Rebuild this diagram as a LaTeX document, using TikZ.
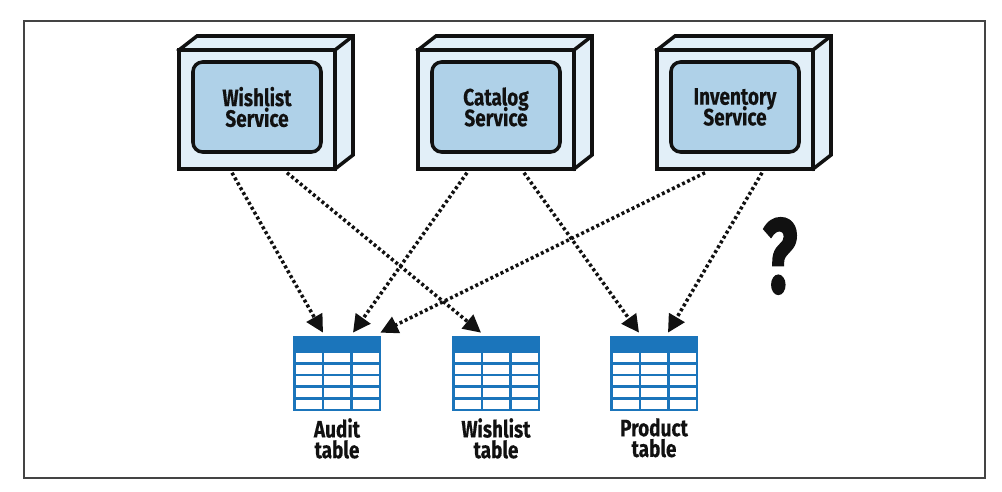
\documentclass[tikz,border=0pt]{standalone}
\usepackage{fontspec}
\setmainfont{Fira Sans}
\newfontfamily\narrowfont[FakeStretch=0.8,FakeBold=0.3]{Fira Sans}
\newfontfamily\queryfont[FakeStretch=0.68,FakeBold=1.5]{Fira Sans}
\usetikzlibrary{arrows.meta,calc}
\definecolor{ink}{HTML}{111111}
\definecolor{framegray}{HTML}{444444}
\definecolor{pale}{HTML}{E2EFF8}
\definecolor{panel}{HTML}{AFD1E8}
\definecolor{tableblue}{HTML}{1B75BB}
\lineskiplimit=-10pt
\normallineskiplimit=-10pt
\tikzset{
  frontface/.style={draw=ink,fill=pale,line width=2pt,line join=miter,minimum width=156*0.02cm,minimum height=119*0.02cm,inner sep=0pt},
  sideface/.style={draw=ink,fill=pale,line width=2pt,line join=miter},
  panelbox/.style={draw=ink,fill=panel,line width=2pt,rounded corners=5.5pt,minimum width=128*0.02cm,minimum height=90*0.02cm,inner sep=0pt,align=center,text=ink,font=\narrowfont\bfseries\fontsize{13.5}{11.8}\selectfont},
  tablebox/.style={draw=none,fill=tableblue,minimum width=88*0.02cm,minimum height=75*0.02cm,inner sep=0pt},
  tablelabel/.style={align=center,text=ink,font=\narrowfont\bfseries\fontsize{13.5}{11.8}\selectfont},
  dotarrow/.style={ink,line width=2pt,dash pattern=on 1.7pt off 1.5pt,-{Triangle[length=10pt,width=10pt]}}
}
\begin{document}
\begin{tikzpicture}[x=0.02cm,y=-0.02cm]
  \useasboundingbox (0,0) rectangle (1002,491);
  \draw[framegray,line width=.8pt] (24,21) rectangle (985,478);

  % service boxes
  \foreach \xx/\nm/\txt in {257/wishlist/{Wishlist\\Service},496/catalog/{Catalog\\Service},735/inventory/{Inventory\\Service}}{
    \draw[sideface] (\xx-78,50)--(\xx-60,36)--(\xx+96,36)--(\xx+96,155)--(\xx+78,169)--cycle;
    \draw[sideface] (\xx+78,50)--(\xx+96,36);
    \node[frontface] (\nm) at (\xx,109.5) {};
    \node[panelbox] (\nm panel) at (\xx,107) {\txt};
  }

  % tables
  \foreach \xx/\nm/\txt in {337/audit/{Audit\\table},496/wish/{Wishlist\\table},654/product/{Product\\table}}{
    \node[tablebox] (\nm) at (\xx,373.5) {};
    \foreach \rr in {0,...,4}{
      \foreach \cc in {0,1,2}{
        \fill[white] (\xx-41+\cc*28.3,{352.8+\rr*11.8}) rectangle +(26,9);
      }
    }
    \node[tablelabel,anchor=north] (\nm label) at (\xx,412) {\txt};
  }

  % connectors
  \draw[dotarrow] ($(wishlist.south)+(-25,2)$)--($(audit.north)+(-14,-3)$);
  \draw[dotarrow] ($(wishlist.south)+(30,2)$)--($(wish.north)+(-15,-3)$);
  \draw[dotarrow] ($(catalog.south)+(-29,2)$)--($(audit.north)+(16,-3)$);
  \draw[dotarrow] ($(catalog.south)+(28,2)$)--($(product.north)+(-15,-3)$);
  \draw[dotarrow] ($(inventory.south)+(-30,2)$)--($(audit.north east)+(-1,-3)$);
  \draw[dotarrow] ($(inventory.south)+(27,2)$)--($(product.north)+(14,-3)$);

  \node[font=\queryfont\bfseries\fontsize{60}{60}\selectfont,text=ink] (query) at (780,256) {?};
\end{tikzpicture}
\end{document}
